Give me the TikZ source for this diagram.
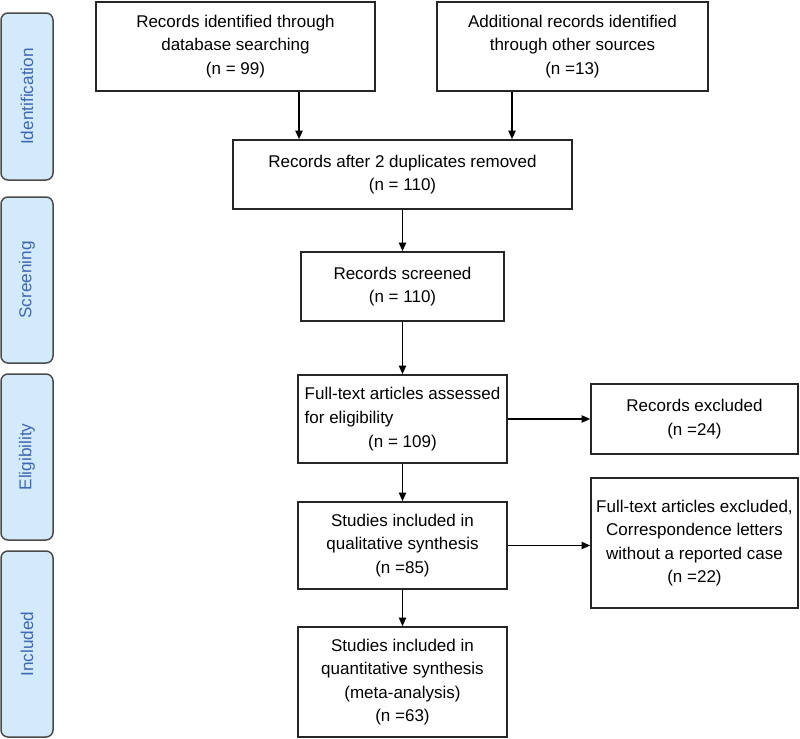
\documentclass[tikz,border=0pt]{standalone}
\usepackage{fontspec}
\setmainfont{Liberation Sans}
\usetikzlibrary{arrows.meta}
\definecolor{phasefill}{HTML}{D3EAFB}
\definecolor{phaseline}{HTML}{4A4A4A}
\definecolor{phasetext}{HTML}{3E68B0}
\begin{document}
\begin{tikzpicture}[x=0.5pt,y=-0.5pt,
	box/.style={draw=black!85,line width=0.75pt,align=center,inner sep=0pt,font=\fontsize{8.5}{11.8}\selectfont},
	phase/.style={draw=phaseline,line width=0.75pt,fill=phasefill,rounded corners=3.5pt,rotate=90,minimum height=26pt,inner sep=0pt,text=phasetext,font=\fontsize{8.6}{10}\selectfont},
	arr/.style={-{Triangle[length=4.3pt,width=3.6pt]},line width=0.75pt}]
	\useasboundingbox (0,0) rectangle (800,739);
	\node [phase,minimum width=83.5pt] (ident) at (27,96.5) {Identification};
	\node [phase,minimum width=83pt] (screen) at (27,280) {Screening};
	\node [phase,minimum width=83pt] (elig) at (27,457) {Eligibility};
	\node [phase,minimum width=93pt] (incl) at (27,644) {Included};
	\node [box,minimum width=139.5pt,minimum height=44.5pt] (dbsearch) at (235.5,46.5) {Records identified through\\database searching\\(n = 99)};
	\node [box,minimum width=135.5pt,minimum height=44.5pt] (othersrc) at (572.5,46.5) {Additional records identified\\through other sources\\(n =13)};
	\node [box,minimum width=169.5pt,minimum height=34.5pt] (dupl) at (402.5,174.5) {Records after 2 duplicates removed\\(n = 110)};
	\node [box,minimum width=101.5pt,minimum height=34.5pt] (screened) at (402.5,286.5) {Records screened\\(n = 110)};
	\node [box,minimum width=104.5pt,minimum height=44pt] (fulltext) at (402.5,419) {Full-text articles assessed\\\rlap{for eligibility}\phantom{Full-text articles assessed}\\(n = 109)};
	\node [box,minimum width=103.5pt,minimum height=35pt] (recexcl) at (694.5,419) {Records excluded\\(n =24)};
	\node [box,minimum width=104.5pt,minimum height=43.5pt] (qual) at (402.5,545.5) {Studies included in\\qualitative synthesis\\(n =85)};
	\node [box,minimum width=103.5pt,minimum height=65pt] (ftexcl) at (694.5,543) {Full-text articles excluded,\\Correspondence letters\\without a reported case\\(n =22)};
	\node [box,minimum width=104.5pt,minimum height=55pt] (quant) at (402.5,682) {Studies included in\\quantitative synthesis\\(meta-analysis)\\(n =63)};
	\coordinate (lefttap) at (299,0);
	\coordinate (righttap) at (512,0);
	\draw [arr] (lefttap |- dbsearch.south) -- (lefttap |- dupl.north);
	\draw [arr] (righttap |- othersrc.south) -- (righttap |- dupl.north);
	\draw [arr] (dupl) -- (screened);
	\draw [arr] (screened) -- (fulltext);
	\draw [arr] (fulltext) -- (recexcl);
	\draw [arr] (fulltext) -- (qual);
	\draw [arr] (qual.east) -- (qual.east -| ftexcl.west);
	\draw [arr] (qual) -- (quant);
\end{tikzpicture}
\end{document}
